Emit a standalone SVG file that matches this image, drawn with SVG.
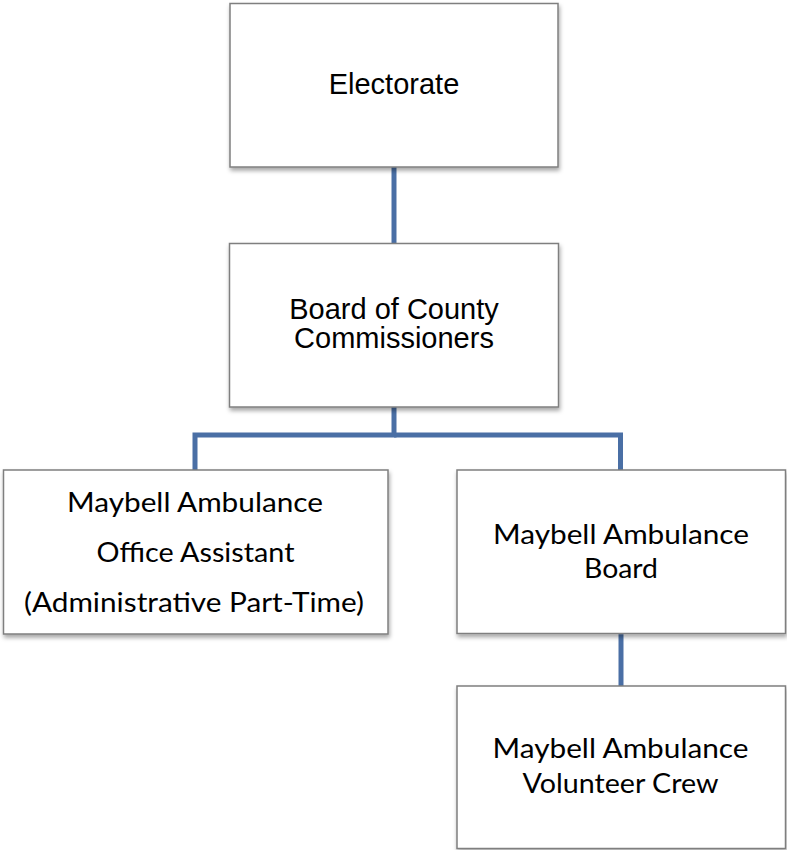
<svg xmlns="http://www.w3.org/2000/svg" width="787" height="850" viewBox="0 0 787 850">
<style>
.box{fill:#ffffff;stroke:#7f7f7f;stroke-width:1.5;filter:url(#sh)}
.conn{fill:none;stroke:#4a6fa5;stroke-width:5;stroke-linejoin:miter}
.arial{font-family:"Liberation Sans",Arial,sans-serif;font-size:29px;fill:#000;text-anchor:middle}
.cal{font-family:Lato,"Noto Sans",sans-serif;font-size:27px;fill:#000;text-anchor:middle}
</style>
<defs>
<filter id="sh" x="-10%" y="-10%" width="125%" height="130%">
<feDropShadow dx="1" dy="3" stdDeviation="2" flood-color="#000" flood-opacity="0.35"/>
</filter>
</defs>
<rect width="787" height="850" fill="#ffffff"/>
<g id="connectors">
<line class="conn" x1="394" y1="167" x2="394" y2="243"/>
<polyline class="conn" points="394,407 394,435 195,435 195,470"/>
<polyline class="conn" points="394,435 620.5,435 620.5,470"/>
<line class="conn" x1="621" y1="633" x2="621" y2="686"/>
</g>
<g id="electorate">
<rect class="box" x="230" y="3.5" width="328" height="163.5"/>
<text class="arial" x="394" y="94">Electorate</text>
</g>
<g id="board-of-county">
<rect class="box" x="229.5" y="243.5" width="329" height="163.5"/>
<text class="arial" x="394" y="319">Board of County</text>
<text class="arial" x="394" y="348">Commissioners</text>
</g>
<g id="office-assistant">
<rect class="box" x="3.5" y="470" width="384.5" height="164"/>
<text class="cal" x="195" y="512" textLength="256" lengthAdjust="spacingAndGlyphs">Maybell Ambulance</text>
<text class="cal" x="195.5" y="562" textLength="198" lengthAdjust="spacingAndGlyphs">Office Assistant</text>
<text class="cal" x="194" y="612" textLength="340" lengthAdjust="spacingAndGlyphs">(Administrative Part-Time)</text>
</g>
<g id="ambulance-board">
<rect class="box" x="457" y="470" width="328.5" height="163.5"/>
<text class="cal" x="621" y="544" textLength="256" lengthAdjust="spacingAndGlyphs">Maybell Ambulance</text>
<text class="cal" x="621" y="578" textLength="74" lengthAdjust="spacingAndGlyphs">Board</text>
</g>
<g id="volunteer-crew">
<rect class="box" x="457" y="686" width="328.5" height="162.5"/>
<text class="cal" x="620.5" y="758" textLength="256" lengthAdjust="spacingAndGlyphs">Maybell Ambulance</text>
<text class="cal" x="620.5" y="793" textLength="196" lengthAdjust="spacingAndGlyphs">Volunteer Crew</text>
</g>
</svg>
